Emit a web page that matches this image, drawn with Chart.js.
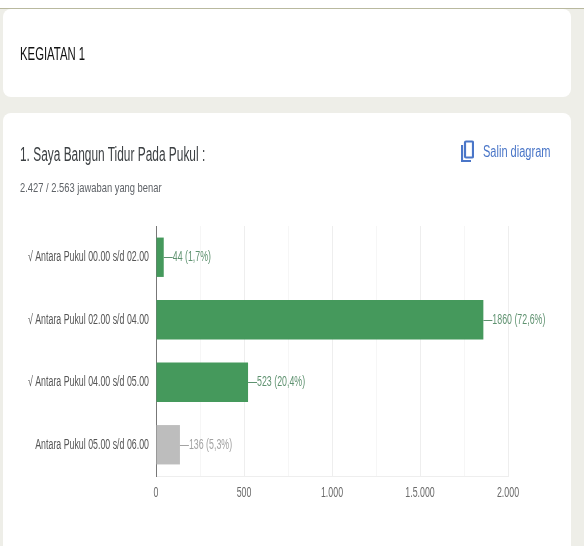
<!DOCTYPE html>
<html>
<head>
<meta charset="utf-8">
<script src="https://cdn.jsdelivr.net/npm/chart.js@4/dist/chart.umd.min.js"></script>
<style>
html,body{margin:0;padding:0;width:584px;height:546px;overflow:hidden;background:#eeeee8;font-family:"Liberation Sans",sans-serif}
.top{position:absolute;left:0;top:0;width:584px;height:8px;background:#fff;border-bottom:1px solid #b9b99f}
.card{position:absolute;left:3px;width:568px;background:#fff;border-radius:8px}
.t{position:absolute;white-space:nowrap;transform-origin:0 50%;filter:blur(.3px)}
#c{position:absolute;left:0;top:0;filter:blur(.3px)}
</style>
</head>
<body>
<div class="top"></div>
<div class="card" style="top:9px;height:88px"></div>
<div class="card" style="top:113px;height:433px;border-radius:8px 8px 0 0"></div>
<div class="t" style="left:20px;top:44px;font-size:18px;color:#111;transform:scaleX(.63)">KEGIATAN 1</div>
<div class="t" style="left:20px;top:143px;font-size:20px;color:#3c4043;transform:scaleX(.595)">1. Saya Bangun Tidur Pada Pukul :</div>
<div class="t" style="left:20px;top:180px;font-size:13px;color:#5f6368;transform:scaleX(.72)">2.427 / 2.563 jawaban yang benar</div>
<svg class="t" style="left:461px;top:140px" width="13" height="23" viewBox="0 0 13 23" fill="none" stroke="#4a76c8" stroke-width="2.2"><rect x="4" y="1.5" width="8" height="16" rx="1"/><path d="M1 5V21H10"/></svg>
<div class="t" style="left:483px;top:143px;font-size:16px;color:#4a76c8;transform:scaleX(.69)">Salin diagram</div>
<canvas id="c" width="584" height="546"></canvas>
<script>
const categories = ["√ Antara Pukul 00.00 s/d 02.00","√ Antara Pukul 02.00 s/d 04.00","√ Antara Pukul 04.00 s/d 05.00","Antara Pukul 05.00 s/d 06.00"];
const values = [44,1860,523,136];
const percents = ["1,7%","72,6%","20,4%","5,3%"];
const barColors = ["#45995c","#45995c","#45995c","#bdbdbd"];
const labelColors = ["#5f9270","#5f9270","#5f9270","#a3a3a3"];
const FONT = '"Liberation Sans",sans-serif';
const TEXT_SQUEEZE = 0.63;

// The reference text is horizontally condensed: squeeze every canvas string about its anchor.
const squeezeText = {
  id:'squeezeText',
  beforeInit(chart){
    const ctx = chart.ctx, orig = ctx.fillText.bind(ctx);
    ctx.fillText = function(s,x,y){
      ctx.save();
      ctx.translate(x,y);
      ctx.scale(TEXT_SQUEEZE,1);
      orig(s,0,0);
      ctx.restore();
    };
  }
};

const barLabels = {
  id:'barLabels',
  afterDatasetsDraw(chart){
    const ctx = chart.ctx;
    chart.getDatasetMeta(0).data.forEach((bar,i)=>{
      ctx.save();
      ctx.strokeStyle = labelColors[i];
      ctx.fillStyle = labelColors[i];
      ctx.lineWidth = 1;
      ctx.beginPath();
      ctx.moveTo(bar.x, Math.round(bar.y)+0.5);
      ctx.lineTo(bar.x+9, Math.round(bar.y)+0.5);
      ctx.stroke();
      ctx.font = '14px '+FONT;
      ctx.textBaseline = 'middle';
      ctx.textAlign = 'left';
      ctx.fillText(values[i]+' ('+percents[i]+')', bar.x+9, bar.y);
      ctx.restore();
    });
  }
};

new Chart(document.getElementById('c'),{
  type:'bar',
  plugins:[squeezeText,barLabels],
  data:{labels:categories,datasets:[{data:values,backgroundColor:barColors,barPercentage:0.63,categoryPercentage:1}]},
  options:{
    indexAxis:'y',responsive:false,animation:false,
    layout:{padding:{left:0,right:76,top:226,bottom:0}},
    plugins:{legend:{display:false},tooltip:{enabled:false}},
    scales:{
      x:{min:0,max:2000,
        afterFit(s){s.height=70;},
        grid:{color(c){return c.tick && c.tick.value%500===0?'#eeeeee':'#f6f6f6';},drawTicks:false},
        border:{color:'#eeeeee'},
        ticks:{stepSize:250,autoSkip:false,maxRotation:0,padding:9,color:'#6a6a6a',font:{family:FONT,size:14},
          callback(v){return v%500===0?(v>=1000?(v/1000)+'.000':String(v)):'';}}
      },
      y:{
        afterFit(s){s.width=156;},
        grid:{display:false,drawTicks:false},
        border:{color:'#777777'},
        ticks:{padding:7,color:'#555555',font:{family:FONT,size:14}}
      }
    }
  }
});
</script>
</body>
</html>
